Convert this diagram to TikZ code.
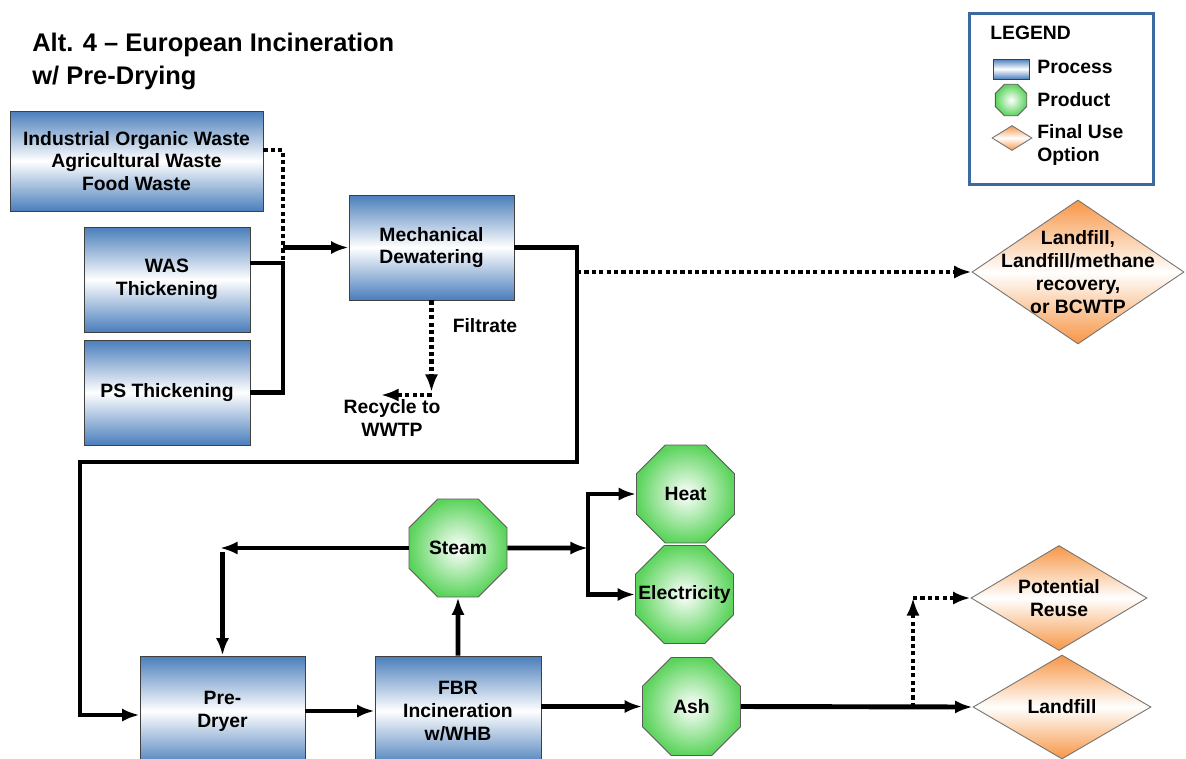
\documentclass[tikz,border=0pt]{standalone}
\usepackage{fontspec}
\setmainfont{Liberation Sans}
\usetikzlibrary{arrows.meta,positioning,shapes.geometric,calc}

\definecolor{procblue}{RGB}{74,126,187}
\definecolor{prodgreen}{RGB}{92,212,92}
\definecolor{useorange}{RGB}{247,150,70}
\definecolor{legendblue}{RGB}{60,106,160}

\begin{document}
\begin{tikzpicture}[
  x=0.02cm, y=-0.02cm,
  txt/.style={font=\fontsize{11}{13}\selectfont\bfseries, align=center, inner sep=0pt},
  proc/.style={txt, draw=black!75, line width=0.5pt, top color=procblue, bottom color=procblue, middle color=white, minimum width=3.32cm, minimum height=2.1cm},
  prod/.style={txt, regular polygon, regular polygon sides=8, draw=black!65, line width=0.5pt, inner color=white, outer color=prodgreen, minimum size=2.12cm},
  enduse/.style={diamond, draw=black!55, line width=0.5pt, top color=useorange, bottom color=useorange, middle color=white, inner sep=0pt},
  pipe/.style={line width=2.8pt},
  flow/.style={pipe, -{Latex[length=10pt,width=7.5pt]}},
  dotline/.style={pipe, dash pattern=on 2.4pt off 1.8pt},
  dotflow/.style={dotline, -{Latex[length=10pt,width=7.5pt]}}
]
  \useasboundingbox (0,0) rectangle (1186,758);

  % heading
  \node[font=\fontsize{14.5}{18.7}\selectfont\bfseries, align=left, anchor=north west, inner sep=0pt] (title) at (32,33) {Alt. 4 – European Incineration\\w/ Pre-Drying};

  % legend
  \node[draw=legendblue, line width=1.6pt, minimum width=3.68cm, minimum height=3.42cm, anchor=north west] (legend) at (968,12) {};
  \node[txt, anchor=west] (lgtitle) at (990,33) {LEGEND};
  \node[proc, minimum width=0.72cm, minimum height=0.4cm] (lgproc) at (1011,69) {};
  \node[txt, anchor=west] (lgproctxt) at (1037,67) {Process};
  \node[prod, minimum size=0.68cm] (lgprod) at (1011,100) {};
  \node[txt, anchor=west] (lgprodtxt) at (1037,100) {Product};
  \node[enduse, minimum width=0.8cm, minimum height=0.5cm] (lguse) at (1012,138) {};
  \node[txt, align=left, anchor=west] (lgusetxt) at (1037,145) {Final Use\\Option};

  % process boxes
  \node[proc, minimum width=5.06cm, minimum height=2cm] (ind) at (136.5,161) {Industrial Organic Waste\\Agricultural Waste\\Food Waste};
  \node[proc] (was) at (167,279.5) {WAS\\Thickening};
  \node[proc] (ps) at (167,392.5) {PS Thickening};
  \node[proc, minimum width=3.3cm] (mech) at (431.5,247.5) {Mechanical\\Dewatering};
  \node[proc, minimum width=3.3cm, minimum height=2.2cm] (predryer) at (222.5,711) {Pre-\\Dryer};
  \node[proc, minimum height=2.2cm] (fbr) at (458,711) {FBR\\Incineration\\w/WHB};

  % products
  \node[prod] (steam) at (458,548) {Steam};
  \node[prod] (heat) at (685.5,494) {Heat};
  \node[prod] (elec) at (684.5,594.5) {};
  \node[txt] (electxt) at (elec) {Electricity};
  \node[prod] (ash) at (691.5,706.5) {Ash};

  % final use options
  \node[enduse, minimum width=4.24cm, minimum height=2.88cm] (lfa) at (1078,272) {};
  \node[txt] (lfatxt) at (lfa) {Landfill,\\Landfill/methane\\recovery,\\or BCWTP};
  \node[enduse, minimum width=3.52cm, minimum height=2.1cm] (reuse) at (1059,598) {};
  \node[txt] (reusetxt) at (reuse) {Potential\\Reuse};
  \node[enduse, minimum width=3.56cm, minimum height=2.08cm] (lfc) at (1062,707) {};
  \node[txt] (lfctxt) at (lfc) {Landfill};

  % feeds into dewatering
  \coordinate (jtop) at (283,150);
  \coordinate (jwas) at (283,263);
  \draw[dotline] (ind.east |- jtop) -- (jtop) -- (jwas);
  \draw[pipe] (ps.east) -| (jwas) -- (was.east |- jwas);
  \draw[flow] (jtop |- mech.west) -- (mech.west);

  % cake to pre-dryer, or off to landfill
  \coordinate (c1) at (577,462);
  \coordinate (c2) at (80,715);
  \draw[flow] (mech.east) -| (c1) -| (c2) -- (c2 -| predryer.west);
  \draw[dotflow] (c1 |- lfa.west) -- (lfa.west);

  % filtrate
  \node[txt] (filtrate) at (485,326) {Filtrate};
  \node[txt] (recycle) at (392,418) {Recycle to\\WWTP};
  \coordinate (fv) at (431.5,392);
  \coordinate (fc) at (431.5,395);
  \coordinate (rc) at (381,395);
  \draw[dotflow] (mech.south) -- (fv);
  \draw[dotflow] (fc) -- (rc);

  % incineration train
  \draw[flow] (predryer.east) -- (fbr.west);
  \draw[flow] (fbr.north) -- (steam.south);
  \coordinate (sl) at (220,545);
  \coordinate (sd) at (222.5,552);
  \draw[flow] (steam.west) -- (steam.west -| sl);
  \draw[flow] (predryer.north |- sd) -- (predryer.north);
  \coordinate (br) at (588,548);
  \draw[flow] (steam.east) -- (br);
  \draw[flow] (br) |- (heat.west);
  \draw[flow] (br) |- (elec.west);

  % ash handling
  \draw[flow] (fbr.east |- ash.west) -- (ash.west);
  \draw[flow] (ash.east) -- (lfc.west);
  \coordinate (rj) at (913,707);
  \draw[dotflow] (rj) -- (rj |- reuse.west);
  \draw[dotflow] (rj |- reuse.west) -- (reuse.west);
\end{tikzpicture}
\end{document}
